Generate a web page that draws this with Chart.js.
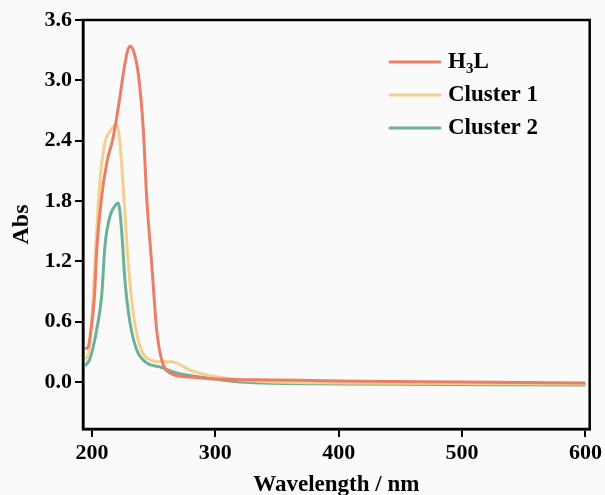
<!DOCTYPE html>
<html>
<head>
<meta charset="utf-8">
<script src="https://cdn.jsdelivr.net/npm/chart.js@4/dist/chart.umd.min.js"></script>
<style>
  html, body { margin: 0; padding: 0; background: #fafafa; }
  #wrap { width: 605px; height: 495px; }
</style>
</head>
<body>
<div id="wrap"><canvas id="c" width="605" height="495"></canvas></div>
<script>
// ---- data ----
const seriesNames = ["H3L", "Cluster 1", "Cluster 2"];
const xTicks = [200, 300, 400, 500, 600];
const yTicks = [0.0, 0.6, 1.2, 1.8, 2.4, 3.0, 3.6];

const wlH3L  = [194.5, 197, 199, 202, 203.8, 207.8, 212, 217.3, 222.7, 225.4, 229, 231, 234, 237.5, 241.6, 244.3, 248.4, 252.4, 256.5, 263, 279, 300, 350, 400, 500, 600];
const absH3L = [0.33, 0.35, 0.50, 0.85, 1.30, 1.84, 2.18, 2.44, 2.84, 3.07, 3.30, 3.34, 3.28, 3.07, 2.51, 1.84, 1.18, 0.52, 0.22, 0.09, 0.05, 0.03, 0.02, 0.01, 0.00, -0.01];

const wlC1  = [194.5, 197, 199, 201, 203.8, 206.5, 210.5, 215, 220, 222, 224, 226.7, 229.4, 233.5, 239, 247, 255, 262, 268.6, 279, 293, 320, 400, 600];
const absC1 = [0.23, 0.27, 0.50, 0.85, 1.51, 2.01, 2.38, 2.50, 2.56, 2.45, 2.18, 1.68, 1.18, 0.68, 0.35, 0.22, 0.20, 0.20, 0.19, 0.12, 0.07, 0.02, -0.01, -0.02];

const wlC2  = [194.5, 198, 201, 203.8, 207.8, 210.5, 214.6, 218, 221.3, 224, 226.7, 230.8, 236.2, 244.3, 255, 268.6, 293, 320, 400, 600];
const absC2 = [0.16, 0.22, 0.35, 0.52, 0.85, 1.35, 1.65, 1.74, 1.78, 1.51, 1.01, 0.59, 0.32, 0.19, 0.15, 0.09, 0.04, 0.00, -0.02, -0.03];

const colors = ["#EA7E66", "#F5CF8C", "#6DAF97"];

const toPts = (xs, ys) => xs.map((x, i) => ({x: x, y: ys[i]}));
const allData = [toPts(wlH3L, absH3L), toPts(wlC1, absC1), toPts(wlC2, absC2)];

const FONT = "'Liberation Serif', 'Times New Roman', serif";

const framePlugin = {
  id: 'frame',
  afterDraw(chart) {
    const {ctx, chartArea: a} = chart;
    ctx.save();
    ctx.strokeStyle = '#000';
    ctx.lineWidth = 2.5;
    ctx.strokeRect(a.left, a.top, a.right - a.left, a.bottom - a.top);
    // custom legend with subscript
    const lx0 = 390, lx1 = 440, tx = 448;
    const ys = [62, 95, 128];
    chart.data.datasets.forEach((ds, i) => {
      ctx.strokeStyle = ds.borderColor;
      ctx.lineWidth = 3;
      ctx.lineCap = 'round';
      ctx.beginPath();
      ctx.moveTo(lx0, ys[i]);
      ctx.lineTo(lx1, ys[i]);
      ctx.stroke();
      ctx.fillStyle = '#000';
      ctx.textBaseline = 'middle';
      ctx.textAlign = 'left';
      ctx.font = "bold 23px " + FONT;
      if (i === 0) {
        let x = tx;
        ctx.fillText("H", x, ys[i]);
        x += ctx.measureText("H").width;
        ctx.font = "bold 15px " + FONT;
        ctx.fillText("3", x, ys[i] + 7);
        x += ctx.measureText("3").width;
        ctx.font = "bold 23px " + FONT;
        ctx.fillText("L", x, ys[i]);
      } else {
        ctx.fillText(ds.label, tx, ys[i]);
      }
    });
    ctx.restore();
  }
};

new Chart(document.getElementById('c'), {
  type: 'line',
  data: {
    datasets: allData.map((d, i) => ({
      label: seriesNames[i],
      data: d,
      borderColor: colors[i],
      backgroundColor: colors[i],
      borderWidth: 3,
      pointRadius: 0,
      cubicInterpolationMode: 'monotone',
      fill: false
    }))
  },
  options: {
    responsive: false,
    animation: false,
    events: [],
    layout: { padding: { top: 20, right: 14, left: 0, bottom: 0 } },
    plugins: { legend: { display: false }, tooltip: { enabled: false } },
    scales: {
      x: {
        type: 'linear',
        min: 192.7,
        max: 603.5,
        afterBuildTicks: (s) => { s.ticks = xTicks.map(v => ({value: v})); },
        afterFit: (s) => { s.height = 66; },
        grid: { display: true, drawOnChartArea: false, drawTicks: true, tickLength: 8, color: '#000', lineWidth: 2 },
        border: { display: true, color: '#000', width: 2.5 },
        ticks: { color: '#000', font: { family: FONT, size: 22, weight: 'bold' }, padding: 3, maxRotation: 0, autoSkip: false },
        title: { display: true, text: 'Wavelength / nm', color: '#000', font: { family: FONT, size: 23, weight: 'bold', lineHeight: 1 }, padding: { top: 0, bottom: -2 } }
      },
      y: {
        type: 'linear',
        min: -0.468,
        max: 3.6,
        afterBuildTicks: (s) => { s.ticks = yTicks.map(v => ({value: v})); },
        afterFit: (s) => { s.width = 83; },
        grid: { display: true, drawOnChartArea: false, drawTicks: true, tickLength: 8, color: '#000', lineWidth: 2 },
        border: { display: true, color: '#000', width: 2.5 },
        ticks: { color: '#000', font: { family: FONT, size: 22, weight: 'bold' }, padding: 3, autoSkip: false, callback: (v) => Number(v).toFixed(1) },
        title: { display: true, text: 'Abs', color: '#000', font: { family: FONT, size: 24, weight: 'bold', lineHeight: 1 }, padding: { top: 10, bottom: 0 } }
      }
    }
  },
  plugins: [framePlugin]
});
</script>
</body>
</html>
